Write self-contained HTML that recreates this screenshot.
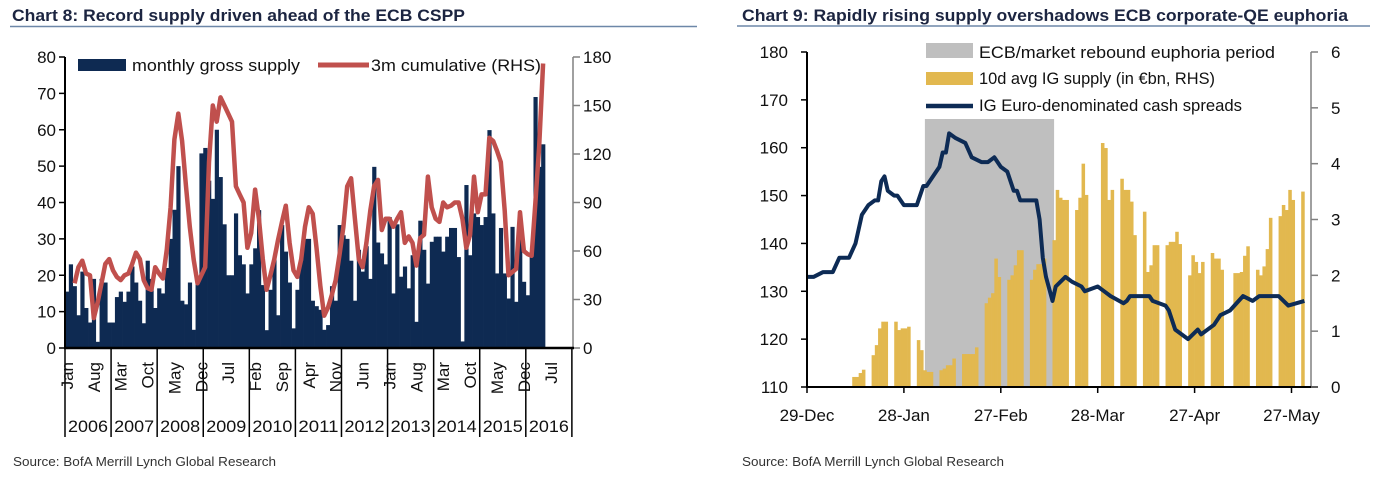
<!DOCTYPE html>
<html><head><meta charset="utf-8"><style>
html,body{margin:0;padding:0;background:#fff;}
svg{display:block;font-family:"Liberation Sans",Arial,sans-serif;}
</style></head><body>
<svg id="root" width="1399" height="501" viewBox="0 0 1399 501" xmlns="http://www.w3.org/2000/svg">
  <g>
    <text x="12" y="21" font-size="17" font-weight="bold" fill="#1c2541" textLength="453" lengthAdjust="spacingAndGlyphs">Chart 8: Record supply driven ahead of the ECB CSPP</text>
    <line x1="10" y1="26.5" x2="697" y2="26.5" stroke="#6d87a8" stroke-width="1.5"/>
    <g id="c8plot"></g>
    <rect x="78" y="59" width="48" height="12" fill="#0e2a52"/>
    <text x="132" y="71" font-size="17" fill="#111" textLength="168" lengthAdjust="spacingAndGlyphs">monthly gross supply</text>
    <line x1="318" y1="65" x2="369" y2="65" stroke="#c0504d" stroke-width="5"/>
    <text x="371" y="71" font-size="17" fill="#111" textLength="170" lengthAdjust="spacingAndGlyphs">3m cumulative (RHS)</text>
    <text x="13" y="466" font-size="13" fill="#333" textLength="263" lengthAdjust="spacingAndGlyphs">Source: BofA Merrill Lynch Global Research</text>
  </g>
  <g>
    <text x="742" y="21" font-size="17" font-weight="bold" fill="#1c2541" textLength="606" lengthAdjust="spacingAndGlyphs">Chart 9: Rapidly rising supply overshadows ECB corporate-QE euphoria</text>
    <line x1="737" y1="26" x2="1370" y2="26" stroke="#6d87a8" stroke-width="1.5"/>
    <g id="c9plot"></g>
    <rect x="926" y="43" width="47" height="15" fill="#bfbfbf"/>
    <text x="979" y="58" font-size="17" fill="#111" textLength="296" lengthAdjust="spacingAndGlyphs">ECB/market rebound euphoria period</text>
    <rect x="926" y="72" width="47" height="13" fill="#e2b84f"/>
    <text x="979" y="84" font-size="17" fill="#111" textLength="236" lengthAdjust="spacingAndGlyphs">10d avg IG supply (in €bn, RHS)</text>
    <line x1="926" y1="106" x2="973" y2="106" stroke="#0d2b55" stroke-width="4.5"/>
    <text x="979" y="111" font-size="17" fill="#111" textLength="263" lengthAdjust="spacingAndGlyphs">IG Euro-denominated cash spreads</text>
    <text x="742" y="466" font-size="13" fill="#333" textLength="262" lengthAdjust="spacingAndGlyphs">Source: BofA Merrill Lynch Global Research</text>
  </g>
</svg>
<script>
// ---- Chart 8 data ----
const c8Supply = [15.5,23,17,9,21,11,7,19,1.7,19,18,7,
 7,14,15.5,12.7,15.5,22.4,18,13,6.8,24,19,11,
 16.4,15,22,30,38,50,13,12,18,5,19,53.5,
 55,46,41,60,47,34,20,20,37,25.5,23,15,
 23,27.4,37.9,17.3,4.9,16,24.6,9,33.8,26.5,18,5.4,
 16,24,30,30,13,11.5,10.5,5,6.3,17,13,33.8,
 31,30,24,13,27,21,28,19,49.8,29,26,23,
 36,15,34,19.6,22.4,16.4,25.5,7.2,35,27,17.7,29.2,
 30.6,30.6,26.5,30.6,33,33,25,1.8,44.8,25.5,37,36,
 33.8,36,59.9,37,20.5,33,20.5,13.6,33.3,12.7,33,18.2,
 14.5,25.5,69,49.8,56];
const c8Cumulative = [null,null,40,50,54,46,45,18.5,28,40,52,55,
 48,44,42,45,46,52,59,55,42,37,36,50,
 46,43,61,87,129,145,128,100,75,55,40,45,
 50,115,150,140,155,150,145,140,100,95,90,62,
 71,98,80,55,36,45,55,67,78,88,65,48,
 44,55,75,87,83,62,38,20,25,33,42,58,
 75,100,105,80,55,50,65,85,100,104,73,80,
 80,75,80,84,65,69,65,51,68,70,106,87,
 80,78,90,87,88,90,90,80,62,70,106,84,
 95,95,130,128,122,115,85,45,47,49,84,60,
 58,57,90,125,176];
const c8LeftTicks = [0,10,20,30,40,50,60,70,80];
const c8RightTicks = [0,30,60,90,120,150,180];
const c8Years = ['2006','2007','2008','2009','2010','2011','2012','2013','2014','2015','2016'];
const c8MonthNames = ['Jan','Feb','Mar','Apr','May','Jun','Jul','Aug','Sep','Oct','Nov','Dec'];

// ---- Chart 9 data ----
const c9SpreadDays = [0,2,5,8,10,13,15,17,19,21,22,23,24,25,27,28,30,34,36,37,41,42,43,44,46,49,51,54,56,58,60,62,64,65,66,71,72,73,74,76,77,80,82,85,86,90,92,94,98,99,100,106,107,111,112,114,118,121,122,126,128,131,135,138,140,146,149,154];
const c9SpreadValues = [133,133,134,134,137,137,140,146,148,149,149,153,154,151,150,150,148,148,152,152,156,159,159,163,162,161,158,157,157,158,156,155,151,151,149,149,145,137,133,128,131,133,132,131,130,131,130,129,127.5,128,129,129,128,127,126,122,120,122,121,123,125,126,129,128,129,129,127,128];
const c9SupplyStartDay = 13;
const c9SupplyValues = [0,0.18,0.18,0.25,0.31, 0.57,0.75,1.05,1.17,1.17, 1.17,1.02,1.05,1.05,1.08,
 0.84,0.66,0.30,0.27,0.27, 0.30,0.33,0.39,0.39,0.51, 0.59,0.59,0.59,0.59,0.71,
 1.5,1.6,1.68,2.3,1.97, 1.92,2.0,2.18,2.45,2.45, 1.92,2.1,2.2,2.2,2.3,
 2.63,3.53,3.39,3.35,3.35, 3.17,3.39,4.0,3.44,0, 0,4.37,4.28,3.35,3.53,
 3.73,3.53,3.53,3.32,2.72, 3.14,2.06,2.18,2.54,2.54, 2.54,2.6,2.6,2.78,2.56,
 2.0,2.36,2.24,2.04,2.24, 2.4,2.3,2.3,2.1,0, 2.04,2.04,2.06,2.35,2.52,
 2.1,2.0,2.16,2.47,3.03, 3.06,3.26,3.17,3.53,3.35, 3.5];
const c9EuphoriaStart = 36.5, c9EuphoriaEnd = 76.5, c9EuphoriaTop = 166;
const c9LeftTicks = [110,120,130,140,150,160,170,180];
const c9RightTicks = [0,1,2,3,4,5,6];
const c9XTickDays = [0,30,60,90,120,150];
const c9XTickLabels = ['29-Dec','28-Jan','27-Feb','28-Mar','27-Apr','27-May'];

const NS = 'http://www.w3.org/2000/svg';
function mk(parent, tag, attrs, text) {
  const el = document.createElementNS(NS, tag);
  for (const k in attrs) el.setAttribute(k, attrs[k]);
  if (text !== undefined) el.textContent = text;
  parent.appendChild(el);
  return el;
}

// ===== Chart 8 =====
(function(){
  const g = document.getElementById('c8plot');
  const X0 = 65, MW = 3.84, Y0 = 348, YT = 57;
  const xM = i => X0 + i * MW;
  const yL = v => Y0 - v * (Y0 - YT) / 80;
  const yR = v => Y0 - v * (Y0 - YT) / 180;
  c8Supply.forEach((v, i) => {
    const r = mk(g, 'rect', {x: xM(i), y: yL(v), width: MW + 0.35, height: Y0 - yL(v), fill: '#0e2a52'});
    
    
  });
  let d = '';
  c8Cumulative.forEach((v, i) => {
    if (v === null) return;
    d += (d ? 'L' : 'M') + (xM(i) + MW / 2).toFixed(1) + ',' + yR(v).toFixed(1);
  });
  const ln = mk(g, 'path', {d: d, fill: 'none', stroke: '#c0504d', 'stroke-width': 4.5, 'stroke-linejoin': 'round'});
  
  
  // axes
  const la = mk(g, 'line', {x1: X0, y1: YT, x2: X0, y2: Y0, stroke: '#000', 'stroke-width': 2});
  
  
  const ra = mk(g, 'line', {x1: 573, y1: YT, x2: 573, y2: Y0, stroke: '#808080', 'stroke-width': 1.5});
  
  
  c8LeftTicks.forEach(v => {
    mk(g, 'line', {x1: X0 - 6, y1: yL(v), x2: X0, y2: yL(v), stroke: '#000', 'stroke-width': 1.5});
    const t = mk(g, 'text', {x: 56, y: yL(v) + 6, 'font-size': 17, 'text-anchor': 'end', fill: '#111'}, String(v));
    
    
  });
  c8RightTicks.forEach(v => {
    mk(g, 'line', {x1: 573, y1: yR(v), x2: 580, y2: yR(v), stroke: '#808080', 'stroke-width': 1.5});
    const t = mk(g, 'text', {x: 583, y: yR(v) + 6, 'font-size': 17, fill: '#111'}, String(v));
    
    
  });
  const xa = mk(g, 'line', {x1: X0 - 1, y1: Y0, x2: 574, y2: Y0, stroke: '#000', 'stroke-width': 2.5});
  
  
  for (let k = 0; k <= c8Years.length; k++) {
    const x = X0 + k * 12 * MW;
    mk(g, 'line', {x1: x, y1: Y0, x2: x, y2: 437, stroke: '#000', 'stroke-width': 1.5});
  }
  c8Years.forEach((yr, k) => {
    const t = mk(g, 'text', {x: X0 + (k + 0.5) * 12 * MW, y: 432, 'font-size': 17, 'text-anchor': 'middle', fill: '#111', textLength: 40, lengthAdjust: 'spacingAndGlyphs'}, yr);
    
    
  });
  for (let m = 0; m <= 11 * 12; m += 7) {
    const xc = xM(m) + MW / 2 + 6;
    const t = mk(g, 'text', {x: xc, y: 362, 'font-size': 17, 'text-anchor': 'end', fill: '#111', transform: 'rotate(-90 ' + xc + ' 362)'}, c8MonthNames[m % 12]);
    
    
  }
})();

// ===== Chart 9 =====
(function(){
  const g = document.getElementById('c9plot');
  const X0 = 807, DW = 3.23, Y0 = 387, YT = 52;
  const xD = d => X0 + d * DW;
  const yL = v => Y0 - (v - 110) * (Y0 - YT) / 70;
  const yR = v => Y0 - v * (Y0 - YT) / 6;
  const box = mk(g, 'rect', {x: xD(c9EuphoriaStart), y: yL(c9EuphoriaTop), width: xD(c9EuphoriaEnd) - xD(c9EuphoriaStart), height: Y0 - yL(c9EuphoriaTop), fill: '#bfbfbf'});
  
  
  let day = c9SupplyStartDay;
  c9SupplyValues.forEach(v => {
    while ((day - 13) % 7 >= 5) day++;
    if (v > 0) {
      const r = mk(g, 'rect', {x: xD(day), y: yR(v), width: DW + 0.3, height: Y0 - yR(v), fill: '#e2b84f'});
      
      
    }
    day++;
  });
  let d = '';
  c9SpreadDays.forEach((dd, i) => {
    d += (i ? 'L' : 'M') + xD(dd).toFixed(1) + ',' + yL(c9SpreadValues[i]).toFixed(1);
  });
  const ln = mk(g, 'path', {d: d, fill: 'none', stroke: '#0d2b55', 'stroke-width': 4, 'stroke-linejoin': 'round'});
  
  
  const la = mk(g, 'line', {x1: X0, y1: YT, x2: X0, y2: Y0, stroke: '#000', 'stroke-width': 2});
  
  
  const ra = mk(g, 'line', {x1: 1311, y1: YT, x2: 1311, y2: Y0, stroke: '#808080', 'stroke-width': 1.5});
  
  
  const xa = mk(g, 'line', {x1: X0 - 1, y1: Y0, x2: 1318, y2: Y0, stroke: '#000', 'stroke-width': 2});
  
  
  c9LeftTicks.forEach(v => {
    mk(g, 'line', {x1: X0 - 6, y1: yL(v), x2: X0, y2: yL(v), stroke: '#000', 'stroke-width': 1.5});
    const t = mk(g, 'text', {x: 788, y: yL(v) + 6, 'font-size': 17, 'text-anchor': 'end', fill: '#111'}, String(v));
    
    
  });
  c9RightTicks.forEach(v => {
    mk(g, 'line', {x1: 1311, y1: yR(v), x2: 1318, y2: yR(v), stroke: '#808080', 'stroke-width': 1.5});
    const t = mk(g, 'text', {x: 1331, y: yR(v) + 6, 'font-size': 17, fill: '#111'}, String(v));
    
    
  });
  c9XTickDays.forEach((dd, i) => {
    mk(g, 'line', {x1: xD(dd), y1: Y0, x2: xD(dd), y2: Y0 + 6, stroke: '#000', 'stroke-width': 1.5});
    const t = mk(g, 'text', {x: xD(dd), y: 421, 'font-size': 17, 'text-anchor': 'middle', fill: '#111'}, c9XTickLabels[i]);
    
    
  });
})();
</script>
</body></html>
